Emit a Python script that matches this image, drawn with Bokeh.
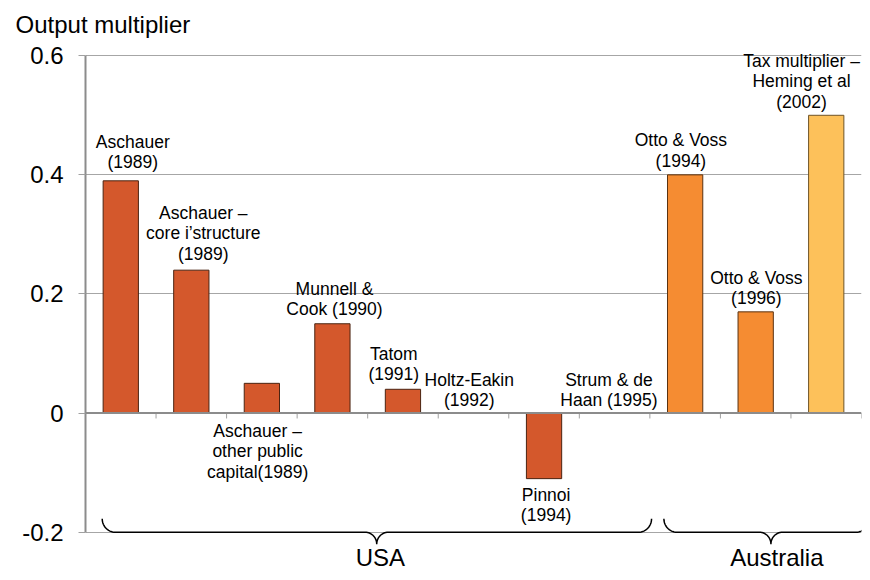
import numpy as np
from bokeh.plotting import figure
from bokeh.core.properties import value
from bokeh.models import (ColumnDataSource, Range1d, FixedTicker, LabelSet,
                          Span, CustomJSTickFormatter)
from bokeh.embed import file_html
from bokeh.resources import INLINE

# ---------------- data ----------------
studies = [
    "Aschauer\n(1989)",
    "Aschauer –\ncore i’structure\n(1989)",
    "Aschauer –\nother public\ncapital(1989)",
    "Munnell &\nCook (1990)",
    "Tatom\n(1991)",
    "Holtz-Eakin\n(1992)",
    "Pinnoi\n(1994)",
    "Strum & de\nHaan (1995)",
    "Otto & Voss\n(1994)",
    "Otto & Voss\n(1996)",
    "Tax multiplier –\nHeming et al\n(2002)",
]
multipliers = [0.39, 0.24, 0.05, 0.15, 0.04, 0.0, -0.11, 0.0, 0.40, 0.17, 0.50]
series = ["USA"] * 8 + ["Australia"] * 2 + ["Australia tax"]
countries = ["USA", "Australia"]
y_ticks = [-0.2, 0, 0.2, 0.4, 0.6]
y_axis_title = "Output multiplier"

# ---------------- layout / style (positions, not data) ----------------
colors = {"USA": "#D4582C", "Australia": "#F58C32", "Australia tax": "#FDC15A"}
outline = {"USA": "#4A2412", "Australia": "#5A3210", "Australia tax": "#6E5428"}
# label block centre: offset from bar centre (x) and y in data units
label_dx = [0.17, 0.17, -0.06, 0.03, -0.13, -0.06, 0.03, -0.08, -0.06, 0.01, -0.35]
label_y = [0.438, 0.302, -0.064, 0.192, 0.082, 0.039, -0.154, 0.039, 0.441, 0.210, 0.557]
LINE_STEP = 0.0342
# braces: start, tip, end (data x) and group label x
brace_spans = [(0.237, 4.128, 8.024), (8.199, 9.716, 11.106)]
group_label_x = [4.18, 9.80]
group_label_y = -0.2559
FONT = "Liberation Sans"

n = len(studies)
centers = np.arange(n) + 0.5

p = figure(width=862, height=572, output_backend="svg", toolbar_location=None,
           x_range=Range1d(0, n), y_range=Range1d(-0.2676, 0.6155),
           x_axis_location=None, min_border_left=85, min_border_right=1,
           min_border_top=43, min_border_bottom=0)
p.outline_line_color = None
p.background_fill_color = "white"
p.border_fill_color = "white"
p.xgrid.visible = False

# title used as the y-axis caption at top-left
p.title.text = y_axis_title
p.title.align = "left"
p.title.offset = -70
p.title.text_font = FONT
p.title.text_font_size = "24px"
p.title.text_font_style = "normal"
p.title.text_color = "#000000"
p.title.standoff = 17

# grid
p.ygrid.ticker = FixedTicker(ticks=[t for t in y_ticks if t != 0])
p.ygrid.grid_line_color = "#A6A6A6"
p.ygrid.grid_line_width = 1

# y axis
ax = p.yaxis[0]
ax.ticker = FixedTicker(ticks=y_ticks)
ax.bounds = (min(y_ticks), max(y_ticks))
ax.formatter = CustomJSTickFormatter(code="return Math.abs(tick) < 1e-9 ? '0' : tick.toFixed(1);")
ax.axis_line_color = "#8C8C8C"
ax.axis_line_width = 2
ax.major_tick_line_color = "#A0A0A0"
ax.major_tick_out = 7
ax.major_tick_in = 0
ax.minor_tick_line_color = None
ax.major_label_standoff = 15
ax.major_label_text_font = FONT
ax.major_label_text_font_size = "24px"
ax.major_label_text_color = "#000000"

# zero line and category tick marks
p.add_layout(Span(location=0, dimension="width", line_color="#8C8C8C", line_width=2))
bounds = np.arange(1, n + 1)
p.segment(x0=bounds, y0=np.zeros(n), x1=bounds, y1=np.full(n, -0.009),
          line_color="#A0A0A0", line_width=1)

# bars
mask = [v != 0 for v in multipliers]
bar_src = ColumnDataSource(dict(
    x=[c for c, m in zip(centers, mask) if m],
    top=[v for v, m in zip(multipliers, mask) if m],
    fill=[colors[s] for s, m in zip(series, mask) if m],
    line=[outline[s] for s, m in zip(series, mask) if m],
))
p.vbar(x="x", top="top", bottom=0, width=0.5, source=bar_src,
       fill_color="fill", line_color="line", line_width=1)

# bar labels (one row per text line)
lx, ly, lt = [], [], []
for i, txt in enumerate(studies):
    lines = txt.split("\n")
    k = len(lines)
    for j, line in enumerate(lines):
        lx.append(centers[i] + label_dx[i])
        ly.append(label_y[i] - (j - (k - 1) / 2) * LINE_STEP)
        lt.append(line)
lab_src = ColumnDataSource(dict(x=lx, y=ly, t=lt))
p.add_layout(LabelSet(x="x", y="y", text="t", source=lab_src,
                      text_align="center", text_baseline="middle",
                      text_font=value(FONT), text_font_size=value("17.5px"),
                      text_color="#000000"))

# braces
yb = -0.2
rex, rey = 13 / 70.5, 13.5 / 599
tw, td = 11.5 / 70.5, 12 / 599
t = np.linspace(0, np.pi / 2, 16)
bxs, bys = [], []
for (x0, xm, x1) in brace_spans:
    xs, ys = [], []
    xs += list(x0 + rex * (1 - np.cos(t))); ys += list(yb + rey * (1 - np.sin(t)))
    xs += list(xm - tw + tw * np.sin(t)); ys += list(yb - td * (1 - np.cos(t)))
    xs += list(xm + tw - tw * np.sin(t[::-1])); ys += list(yb - td * (1 - np.cos(t[::-1])))
    xs += list(x1 - rex * (1 - np.cos(t[::-1]))); ys += list(yb + rey * (1 - np.sin(t[::-1])))
    bxs.append(xs); bys.append(ys)
p.multi_line(xs=bxs, ys=bys, line_color="#000000", line_width=1.5)

grp_src = ColumnDataSource(dict(x=group_label_x, y=[group_label_y] * len(countries), t=countries))
p.add_layout(LabelSet(x="x", y="y", text="t", source=grp_src,
                      text_align="center", text_baseline="alphabetic",
                      text_font=value(FONT), text_font_size=value("24px"),
                      text_color="#000000"))

open("out.html", "w").write(file_html(p, INLINE))
